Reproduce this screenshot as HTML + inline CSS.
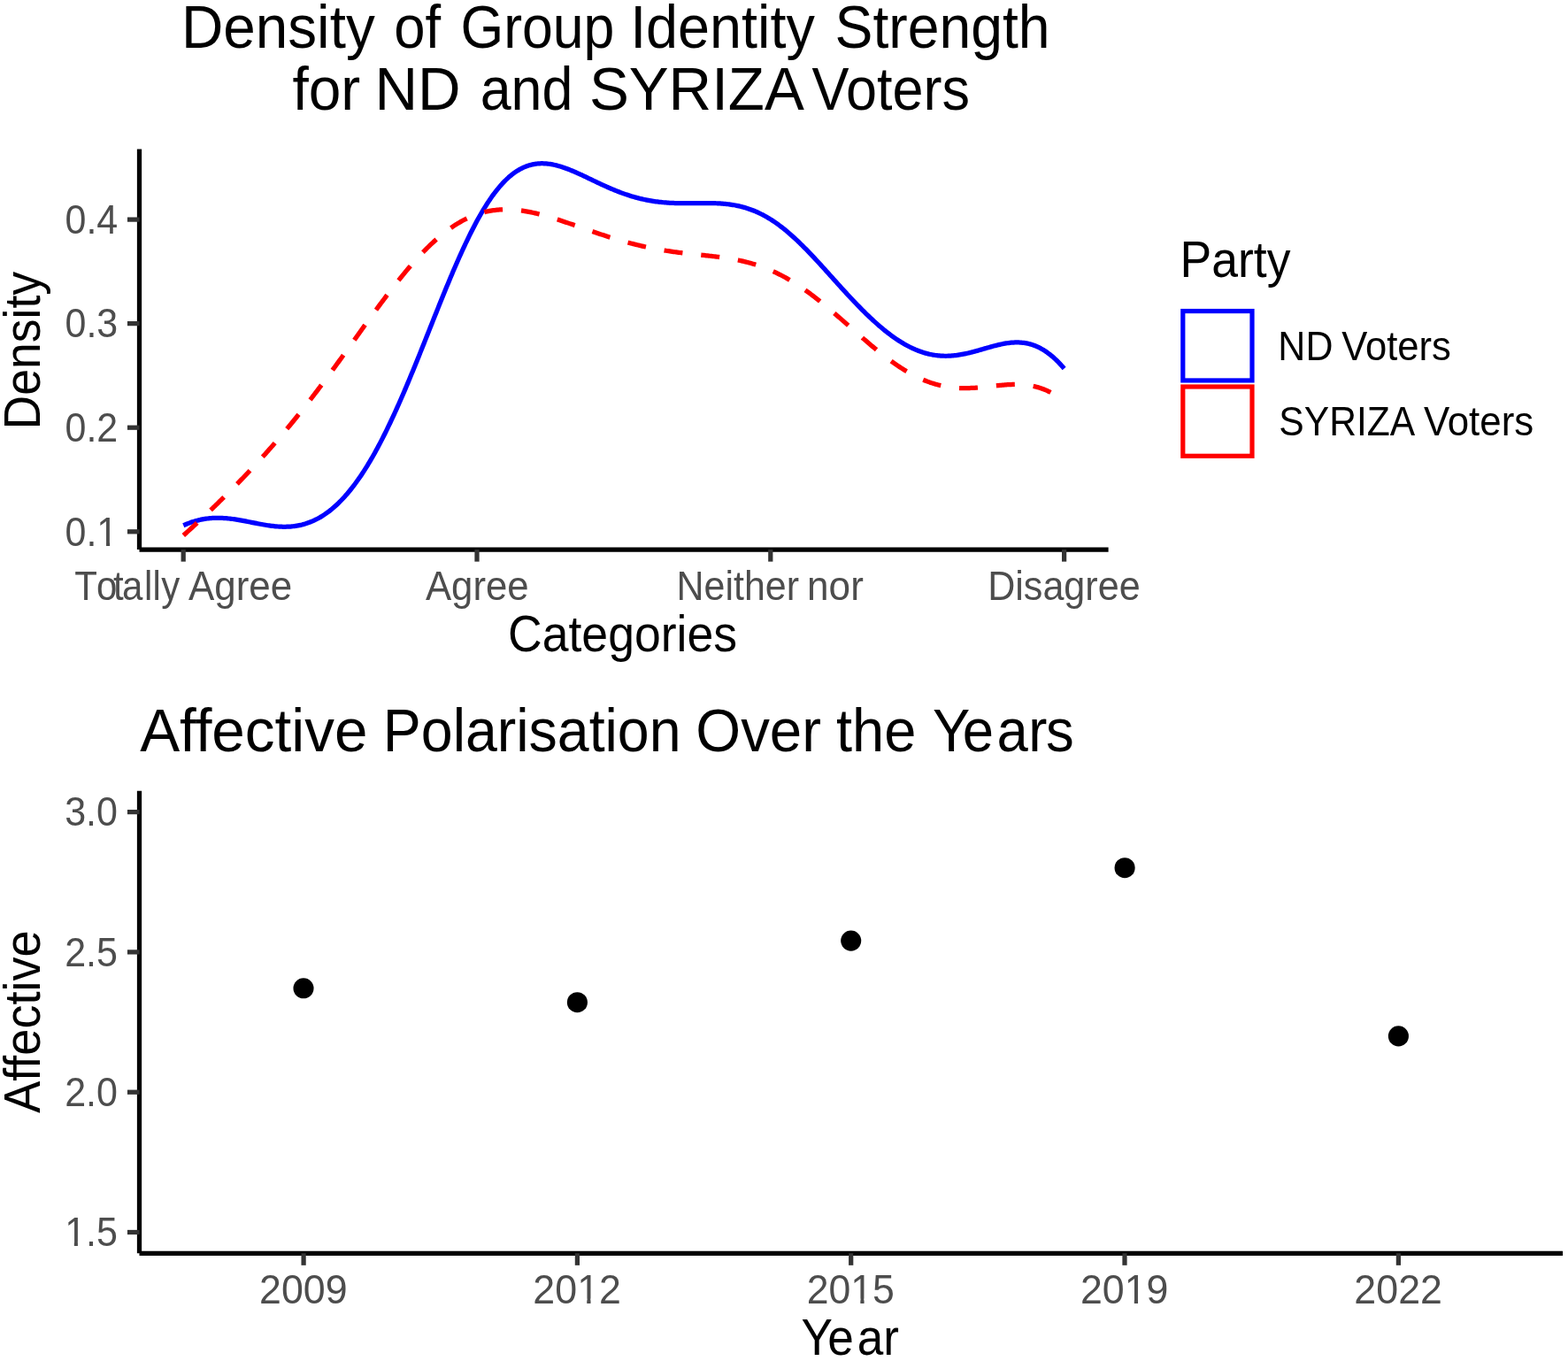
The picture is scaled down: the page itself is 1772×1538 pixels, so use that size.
<!DOCTYPE html>
<html lang="en">
<head>
<meta charset="utf-8">
<title>Density of Group Identity Strength for ND and SYRIZA Voters / Affective Polarisation Over the Years</title>
<style>
html,body{margin:0;padding:0;background:#fff;}
body{width:1772px;height:1538px;overflow:hidden;}
svg{display:block;}
svg text{font-family:"Liberation Sans", sans-serif;white-space:pre;}
</style>
</head>
<body>
<svg width="1772" height="1538" viewBox="0 0 1772 1538" font-family='"Liberation Sans", sans-serif'>
<rect width="1772" height="1538" fill="#fff"/>
<g id="top-plot">
<path d="M157.5,168.6 V621.1" stroke="#000" stroke-width="5.25" fill="none"/><path d="M157.5,621.1 H1252.6" stroke="#000" stroke-width="5.25" fill="none"/>
<path d="M207.2,621.1 v13.55" stroke="#333333" stroke-width="5.25" fill="none"/><path d="M539.0,621.1 v13.55" stroke="#333333" stroke-width="5.25" fill="none"/><path d="M870.8,621.1 v13.55" stroke="#333333" stroke-width="5.25" fill="none"/><path d="M1202.6,621.1 v13.55" stroke="#333333" stroke-width="5.25" fill="none"/>
<path d="M157.5,600.8 h-13.55" stroke="#333333" stroke-width="5.25" fill="none"/><path d="M157.5,483.2 h-13.55" stroke="#333333" stroke-width="5.25" fill="none"/><path d="M157.5,365.6 h-13.55" stroke="#333333" stroke-width="5.25" fill="none"/><path d="M157.5,248.1 h-13.55" stroke="#333333" stroke-width="5.25" fill="none"/>
<path d="M207.30,593.75 L208.72,593.12 L210.15,592.51 L211.57,591.93 L213.00,591.37 L214.42,590.84 L215.84,590.34 L217.27,589.86 L218.69,589.40 L220.12,588.97 L221.54,588.56 L222.96,588.18 L224.39,587.83 L225.81,587.49 L227.23,587.19 L228.66,586.90 L230.08,586.64 L231.51,586.41 L232.93,586.20 L234.35,586.01 L235.78,585.85 L237.20,585.70 L238.63,585.58 L240.05,585.49 L241.47,585.41 L242.90,585.36 L244.32,585.32 L245.75,585.31 L247.17,585.32 L248.59,585.34 L250.02,585.38 L251.44,585.45 L252.86,585.53 L254.29,585.62 L255.71,585.74 L257.14,585.87 L258.56,586.01 L259.98,586.17 L261.41,586.34 L262.83,586.52 L264.26,586.72 L265.68,586.93 L267.10,587.15 L268.53,587.38 L269.95,587.61 L271.38,587.86 L272.80,588.12 L274.22,588.38 L275.65,588.64 L277.07,588.91 L278.49,589.19 L279.92,589.47 L281.34,589.75 L282.77,590.04 L284.19,590.32 L285.61,590.61 L287.04,590.89 L288.46,591.17 L289.89,591.45 L291.31,591.73 L292.73,592.00 L294.16,592.27 L295.58,592.53 L297.01,592.78 L298.43,593.03 L299.85,593.27 L301.28,593.50 L302.70,593.72 L304.12,593.92 L305.55,594.12 L306.97,594.30 L308.40,594.47 L309.82,594.63 L311.24,594.77 L312.67,594.89 L314.09,595.00 L315.52,595.09 L316.94,595.17 L318.36,595.22 L319.79,595.26 L321.21,595.27 L322.64,595.27 L324.06,595.24 L325.48,595.19 L326.91,595.12 L328.33,595.02 L329.75,594.90 L331.18,594.75 L332.60,594.58 L334.03,594.38 L335.45,594.16 L336.87,593.91 L338.30,593.63 L339.72,593.32 L341.15,592.99 L342.57,592.62 L343.99,592.22 L345.42,591.80 L346.84,591.34 L348.27,590.85 L349.69,590.33 L351.11,589.78 L352.54,589.19 L353.96,588.57 L355.38,587.92 L356.81,587.23 L358.23,586.51 L359.66,585.75 L361.08,584.96 L362.50,584.13 L363.93,583.27 L365.35,582.37 L366.78,581.43 L368.20,580.45 L369.62,579.44 L371.05,578.39 L372.47,577.30 L373.90,576.18 L375.32,575.01 L376.74,573.81 L378.17,572.57 L379.59,571.29 L381.01,569.97 L382.44,568.60 L383.86,567.20 L385.29,565.76 L386.71,564.28 L388.13,562.76 L389.56,561.20 L390.98,559.59 L392.41,557.95 L393.83,556.27 L395.25,554.54 L396.68,552.77 L398.10,550.97 L399.53,549.12 L400.95,547.23 L402.37,545.29 L403.80,543.32 L405.22,541.31 L406.64,539.25 L408.07,537.15 L409.49,535.02 L410.92,532.84 L412.34,530.62 L413.76,528.36 L415.19,526.06 L416.61,523.71 L418.04,521.33 L419.46,518.91 L420.88,516.45 L422.31,513.95 L423.73,511.41 L425.16,508.83 L426.58,506.21 L428.00,503.55 L429.43,500.86 L430.85,498.13 L432.27,495.36 L433.70,492.55 L435.12,489.71 L436.55,486.84 L437.97,483.92 L439.39,480.98 L440.82,478.00 L442.24,474.98 L443.67,471.94 L445.09,468.86 L446.51,465.75 L447.94,462.61 L449.36,459.44 L450.79,456.25 L452.21,453.02 L453.63,449.77 L455.06,446.49 L456.48,443.18 L457.90,439.85 L459.33,436.50 L460.75,433.12 L462.18,429.73 L463.60,426.31 L465.02,422.87 L466.45,419.42 L467.87,415.95 L469.30,412.46 L470.72,408.96 L472.14,405.44 L473.57,401.91 L474.99,398.37 L476.42,394.82 L477.84,391.26 L479.26,387.70 L480.69,384.13 L482.11,380.55 L483.53,376.97 L484.96,373.39 L486.38,369.81 L487.81,366.23 L489.23,362.65 L490.65,359.07 L492.08,355.50 L493.50,351.94 L494.93,348.38 L496.35,344.84 L497.77,341.30 L499.20,337.78 L500.62,334.27 L502.05,330.77 L503.47,327.29 L504.89,323.83 L506.32,320.39 L507.74,316.97 L509.16,313.57 L510.59,310.20 L512.01,306.85 L513.44,303.52 L514.86,300.23 L516.28,296.96 L517.71,293.72 L519.13,290.52 L520.56,287.34 L521.98,284.21 L523.40,281.10 L524.83,278.04 L526.25,275.01 L527.68,272.02 L529.10,269.07 L530.52,266.16 L531.95,263.29 L533.37,260.47 L534.79,257.69 L536.22,254.95 L537.64,252.27 L539.07,249.62 L540.49,247.03 L541.91,244.48 L543.34,241.99 L544.76,239.54 L546.19,237.15 L547.61,234.80 L549.03,232.51 L550.46,230.27 L551.88,228.09 L553.31,225.96 L554.73,223.88 L556.15,221.85 L557.58,219.88 L559.00,217.97 L560.43,216.11 L561.85,214.31 L563.27,212.56 L564.70,210.87 L566.12,209.23 L567.54,207.65 L568.97,206.13 L570.39,204.66 L571.82,203.25 L573.24,201.89 L574.66,200.59 L576.09,199.34 L577.51,198.15 L578.94,197.02 L580.36,195.93 L581.78,194.90 L583.21,193.93 L584.63,193.01 L586.06,192.14 L587.48,191.32 L588.90,190.56 L590.33,189.84 L591.75,189.18 L593.17,188.57 L594.60,188.00 L596.02,187.48 L597.45,187.01 L598.87,186.59 L600.29,186.21 L601.72,185.88 L603.14,185.59 L604.57,185.35 L605.99,185.15 L607.41,184.99 L608.84,184.87 L610.26,184.79 L611.69,184.74 L613.11,184.74 L614.53,184.77 L615.96,184.84 L617.38,184.95 L618.80,185.08 L620.23,185.25 L621.65,185.45 L623.08,185.69 L624.50,185.95 L625.92,186.24 L627.35,186.55 L628.77,186.90 L630.20,187.27 L631.62,187.66 L633.04,188.08 L634.47,188.52 L635.89,188.98 L637.32,189.46 L638.74,189.96 L640.16,190.47 L641.59,191.01 L643.01,191.56 L644.43,192.12 L645.86,192.70 L647.28,193.29 L648.71,193.90 L650.13,194.52 L651.55,195.14 L652.98,195.78 L654.40,196.42 L655.83,197.07 L657.25,197.73 L658.67,198.39 L660.10,199.06 L661.52,199.74 L662.95,200.41 L664.37,201.09 L665.79,201.77 L667.22,202.45 L668.64,203.14 L670.06,203.82 L671.49,204.50 L672.91,205.18 L674.34,205.85 L675.76,206.53 L677.18,207.20 L678.61,207.87 L680.03,208.53 L681.46,209.18 L682.88,209.84 L684.30,210.48 L685.73,211.12 L687.15,211.75 L688.58,212.37 L690.00,212.99 L691.42,213.59 L692.85,214.19 L694.27,214.78 L695.69,215.36 L697.12,215.93 L698.54,216.49 L699.97,217.04 L701.39,217.58 L702.81,218.11 L704.24,218.62 L705.66,219.13 L707.09,219.62 L708.51,220.10 L709.93,220.57 L711.36,221.03 L712.78,221.48 L714.21,221.91 L715.63,222.33 L717.05,222.74 L718.48,223.14 L719.90,223.52 L721.32,223.89 L722.75,224.25 L724.17,224.60 L725.60,224.93 L727.02,225.25 L728.44,225.56 L729.87,225.86 L731.29,226.14 L732.72,226.41 L734.14,226.67 L735.56,226.92 L736.99,227.15 L738.41,227.38 L739.84,227.59 L741.26,227.79 L742.68,227.97 L744.11,228.15 L745.53,228.32 L746.95,228.47 L748.38,228.62 L749.80,228.75 L751.23,228.87 L752.65,228.99 L754.07,229.09 L755.50,229.19 L756.92,229.27 L758.35,229.35 L759.77,229.42 L761.19,229.48 L762.62,229.53 L764.04,229.57 L765.47,229.61 L766.89,229.64 L768.31,229.67 L769.74,229.69 L771.16,229.70 L772.58,229.71 L774.01,229.71 L775.43,229.71 L776.86,229.71 L778.28,229.70 L779.70,229.69 L781.13,229.68 L782.55,229.66 L783.98,229.65 L785.40,229.63 L786.82,229.61 L788.25,229.60 L789.67,229.58 L791.10,229.56 L792.52,229.55 L793.94,229.54 L795.37,229.53 L796.79,229.53 L798.21,229.53 L799.64,229.53 L801.06,229.54 L802.49,229.56 L803.91,229.58 L805.33,229.61 L806.76,229.65 L808.18,229.70 L809.61,229.75 L811.03,229.81 L812.45,229.89 L813.88,229.97 L815.30,230.07 L816.73,230.18 L818.15,230.30 L819.57,230.43 L821.00,230.58 L822.42,230.74 L823.84,230.91 L825.27,231.11 L826.69,231.31 L828.12,231.54 L829.54,231.78 L830.96,232.04 L832.39,232.31 L833.81,232.61 L835.24,232.92 L836.66,233.25 L838.08,233.60 L839.51,233.98 L840.93,234.37 L842.36,234.78 L843.78,235.22 L845.20,235.67 L846.63,236.15 L848.05,236.66 L849.47,237.18 L850.90,237.73 L852.32,238.30 L853.75,238.89 L855.17,239.51 L856.59,240.15 L858.02,240.81 L859.44,241.50 L860.87,242.22 L862.29,242.95 L863.71,243.72 L865.14,244.50 L866.56,245.31 L867.99,246.15 L869.41,247.01 L870.83,247.89 L872.26,248.80 L873.68,249.73 L875.11,250.68 L876.53,251.66 L877.95,252.67 L879.38,253.69 L880.80,254.74 L882.22,255.81 L883.65,256.91 L885.07,258.03 L886.50,259.16 L887.92,260.32 L889.34,261.51 L890.77,262.71 L892.19,263.93 L893.62,265.17 L895.04,266.43 L896.46,267.72 L897.89,269.02 L899.31,270.33 L900.74,271.67 L902.16,273.02 L903.58,274.39 L905.01,275.77 L906.43,277.17 L907.85,278.59 L909.28,280.02 L910.70,281.46 L912.13,282.92 L913.55,284.39 L914.97,285.87 L916.40,287.36 L917.82,288.86 L919.25,290.37 L920.67,291.89 L922.09,293.42 L923.52,294.96 L924.94,296.51 L926.37,298.06 L927.79,299.62 L929.21,301.18 L930.64,302.75 L932.06,304.32 L933.48,305.90 L934.91,307.48 L936.33,309.06 L937.76,310.64 L939.18,312.23 L940.60,313.81 L942.03,315.40 L943.45,316.98 L944.88,318.57 L946.30,320.15 L947.72,321.73 L949.15,323.30 L950.57,324.88 L952.00,326.44 L953.42,328.01 L954.84,329.56 L956.27,331.12 L957.69,332.66 L959.11,334.20 L960.54,335.73 L961.96,337.26 L963.39,338.77 L964.81,340.28 L966.23,341.78 L967.66,343.27 L969.08,344.75 L970.51,346.21 L971.93,347.67 L973.35,349.11 L974.78,350.55 L976.20,351.97 L977.63,353.37 L979.05,354.77 L980.47,356.15 L981.90,357.52 L983.32,358.87 L984.74,360.21 L986.17,361.53 L987.59,362.84 L989.02,364.13 L990.44,365.40 L991.86,366.66 L993.29,367.90 L994.71,369.12 L996.14,370.33 L997.56,371.52 L998.98,372.69 L1000.41,373.84 L1001.83,374.97 L1003.26,376.08 L1004.68,377.18 L1006.10,378.25 L1007.53,379.30 L1008.95,380.34 L1010.37,381.35 L1011.80,382.34 L1013.22,383.31 L1014.65,384.25 L1016.07,385.18 L1017.49,386.08 L1018.92,386.96 L1020.34,387.82 L1021.77,388.65 L1023.19,389.46 L1024.61,390.25 L1026.04,391.01 L1027.46,391.75 L1028.89,392.47 L1030.31,393.16 L1031.73,393.83 L1033.16,394.47 L1034.58,395.09 L1036.00,395.68 L1037.43,396.24 L1038.85,396.79 L1040.28,397.30 L1041.70,397.79 L1043.12,398.26 L1044.55,398.70 L1045.97,399.11 L1047.40,399.50 L1048.82,399.86 L1050.24,400.19 L1051.67,400.50 L1053.09,400.79 L1054.52,401.05 L1055.94,401.28 L1057.36,401.49 L1058.79,401.67 L1060.21,401.83 L1061.63,401.96 L1063.06,402.07 L1064.48,402.15 L1065.91,402.21 L1067.33,402.25 L1068.75,402.26 L1070.18,402.25 L1071.60,402.21 L1073.03,402.16 L1074.45,402.08 L1075.87,401.98 L1077.30,401.85 L1078.72,401.71 L1080.15,401.55 L1081.57,401.37 L1082.99,401.16 L1084.42,400.94 L1085.84,400.71 L1087.26,400.45 L1088.69,400.18 L1090.11,399.89 L1091.54,399.59 L1092.96,399.28 L1094.38,398.95 L1095.81,398.61 L1097.23,398.25 L1098.66,397.89 L1100.08,397.52 L1101.50,397.14 L1102.93,396.75 L1104.35,396.35 L1105.78,395.95 L1107.20,395.54 L1108.62,395.13 L1110.05,394.72 L1111.47,394.31 L1112.89,393.89 L1114.32,393.48 L1115.74,393.07 L1117.17,392.66 L1118.59,392.25 L1120.01,391.85 L1121.44,391.46 L1122.86,391.08 L1124.29,390.70 L1125.71,390.34 L1127.13,389.98 L1128.56,389.64 L1129.98,389.32 L1131.41,389.01 L1132.83,388.71 L1134.25,388.44 L1135.68,388.18 L1137.10,387.94 L1138.52,387.73 L1139.95,387.54 L1141.37,387.37 L1142.80,387.23 L1144.22,387.11 L1145.64,387.02 L1147.07,386.96 L1148.49,386.93 L1149.92,386.93 L1151.34,386.97 L1152.76,387.03 L1154.19,387.13 L1155.61,387.27 L1157.04,387.44 L1158.46,387.65 L1159.88,387.90 L1161.31,388.19 L1162.73,388.51 L1164.15,388.88 L1165.58,389.29 L1167.00,389.75 L1168.43,390.24 L1169.85,390.78 L1171.27,391.37 L1172.70,392.00 L1174.12,392.68 L1175.55,393.40 L1176.97,394.18 L1178.39,394.99 L1179.82,395.86 L1181.24,396.78 L1182.67,397.74 L1184.09,398.76 L1185.51,399.82 L1186.94,400.93 L1188.36,402.10 L1189.78,403.31 L1191.21,404.57 L1192.63,405.89 L1194.06,407.25 L1195.48,408.66 L1196.90,410.12 L1198.33,411.64 L1199.75,413.20 L1201.18,414.81 L1202.60,416.47" stroke="#0000FF" stroke-width="5.25" fill="none" stroke-linejoin="round"/>
<path d="M207.30,605.03 L208.72,603.75 L210.15,602.46 L211.57,601.16 L213.00,599.87 L214.42,598.56 L215.84,597.26 L217.27,595.95 L218.69,594.64 L220.12,593.32 L221.54,592.00 L222.96,590.68 L224.39,589.35 L225.81,588.02 L227.23,586.69 L228.66,585.35 L230.08,584.01 L231.51,582.67 L232.93,581.32 L234.35,579.97 L235.78,578.61 L237.20,577.25 L238.63,575.89 L240.05,574.52 L241.47,573.15 L242.90,571.78 L244.32,570.40 L245.75,569.02 L247.17,567.63 L248.59,566.24 L250.02,564.85 L251.44,563.45 L252.86,562.05 L254.29,560.64 L255.71,559.23 L257.14,557.81 L258.56,556.39 L259.98,554.97 L261.41,553.54 L262.83,552.10 L264.26,550.66 L265.68,549.22 L267.10,547.77 L268.53,546.32 L269.95,544.86 L271.38,543.39 L272.80,541.92 L274.22,540.45 L275.65,538.97 L277.07,537.48 L278.49,535.99 L279.92,534.49 L281.34,532.99 L282.77,531.48 L284.19,529.97 L285.61,528.45 L287.04,526.92 L288.46,525.39 L289.89,523.85 L291.31,522.31 L292.73,520.75 L294.16,519.20 L295.58,517.63 L297.01,516.06 L298.43,514.48 L299.85,512.90 L301.28,511.31 L302.70,509.71 L304.12,508.11 L305.55,506.49 L306.97,504.88 L308.40,503.25 L309.82,501.62 L311.24,499.98 L312.67,498.33 L314.09,496.68 L315.52,495.01 L316.94,493.34 L318.36,491.67 L319.79,489.98 L321.21,488.29 L322.64,486.60 L324.06,484.89 L325.48,483.18 L326.91,481.46 L328.33,479.73 L329.75,477.99 L331.18,476.25 L332.60,474.50 L334.03,472.74 L335.45,470.98 L336.87,469.21 L338.30,467.43 L339.72,465.64 L341.15,463.85 L342.57,462.05 L343.99,460.24 L345.42,458.43 L346.84,456.60 L348.27,454.78 L349.69,452.94 L351.11,451.10 L352.54,449.25 L353.96,447.39 L355.38,445.53 L356.81,443.66 L358.23,441.79 L359.66,439.91 L361.08,438.02 L362.50,436.13 L363.93,434.23 L365.35,432.33 L366.78,430.42 L368.20,428.50 L369.62,426.58 L371.05,424.66 L372.47,422.73 L373.90,420.80 L375.32,418.86 L376.74,416.91 L378.17,414.97 L379.59,413.02 L381.01,411.06 L382.44,409.10 L383.86,407.14 L385.29,405.18 L386.71,403.21 L388.13,401.24 L389.56,399.26 L390.98,397.29 L392.41,395.31 L393.83,393.33 L395.25,391.35 L396.68,389.37 L398.10,387.39 L399.53,385.41 L400.95,383.43 L402.37,381.44 L403.80,379.46 L405.22,377.48 L406.64,375.50 L408.07,373.52 L409.49,371.54 L410.92,369.56 L412.34,367.59 L413.76,365.62 L415.19,363.65 L416.61,361.68 L418.04,359.72 L419.46,357.76 L420.88,355.81 L422.31,353.86 L423.73,351.91 L425.16,349.97 L426.58,348.04 L428.00,346.11 L429.43,344.18 L430.85,342.27 L432.27,340.36 L433.70,338.46 L435.12,336.56 L436.55,334.68 L437.97,332.80 L439.39,330.93 L440.82,329.08 L442.24,327.23 L443.67,325.39 L445.09,323.56 L446.51,321.74 L447.94,319.93 L449.36,318.14 L450.79,316.36 L452.21,314.59 L453.63,312.83 L455.06,311.08 L456.48,309.35 L457.90,307.63 L459.33,305.93 L460.75,304.24 L462.18,302.57 L463.60,300.91 L465.02,299.26 L466.45,297.64 L467.87,296.03 L469.30,294.43 L470.72,292.86 L472.14,291.30 L473.57,289.76 L474.99,288.23 L476.42,286.73 L477.84,285.24 L479.26,283.77 L480.69,282.32 L482.11,280.90 L483.53,279.49 L484.96,278.10 L486.38,276.73 L487.81,275.38 L489.23,274.06 L490.65,272.75 L492.08,271.47 L493.50,270.21 L494.93,268.97 L496.35,267.75 L497.77,266.55 L499.20,265.38 L500.62,264.23 L502.05,263.10 L503.47,262.00 L504.89,260.92 L506.32,259.86 L507.74,258.83 L509.16,257.82 L510.59,256.83 L512.01,255.87 L513.44,254.93 L514.86,254.01 L516.28,253.12 L517.71,252.26 L519.13,251.42 L520.56,250.60 L521.98,249.81 L523.40,249.04 L524.83,248.29 L526.25,247.57 L527.68,246.88 L529.10,246.20 L530.52,245.56 L531.95,244.93 L533.37,244.33 L534.79,243.76 L536.22,243.21 L537.64,242.68 L539.07,242.18 L540.49,241.70 L541.91,241.24 L543.34,240.81 L544.76,240.40 L546.19,240.01 L547.61,239.64 L549.03,239.30 L550.46,238.98 L551.88,238.69 L553.31,238.41 L554.73,238.16 L556.15,237.93 L557.58,237.72 L559.00,237.53 L560.43,237.36 L561.85,237.21 L563.27,237.09 L564.70,236.98 L566.12,236.89 L567.54,236.82 L568.97,236.77 L570.39,236.74 L571.82,236.73 L573.24,236.74 L574.66,236.77 L576.09,236.81 L577.51,236.87 L578.94,236.95 L580.36,237.04 L581.78,237.15 L583.21,237.27 L584.63,237.42 L586.06,237.57 L587.48,237.74 L588.90,237.93 L590.33,238.13 L591.75,238.35 L593.17,238.57 L594.60,238.81 L596.02,239.07 L597.45,239.33 L598.87,239.61 L600.29,239.90 L601.72,240.20 L603.14,240.52 L604.57,240.84 L605.99,241.17 L607.41,241.52 L608.84,241.87 L610.26,242.23 L611.69,242.60 L613.11,242.98 L614.53,243.37 L615.96,243.77 L617.38,244.17 L618.80,244.58 L620.23,245.00 L621.65,245.42 L623.08,245.85 L624.50,246.29 L625.92,246.73 L627.35,247.18 L628.77,247.63 L630.20,248.09 L631.62,248.55 L633.04,249.02 L634.47,249.49 L635.89,249.96 L637.32,250.44 L638.74,250.92 L640.16,251.40 L641.59,251.89 L643.01,252.37 L644.43,252.86 L645.86,253.35 L647.28,253.85 L648.71,254.34 L650.13,254.84 L651.55,255.33 L652.98,255.83 L654.40,256.33 L655.83,256.82 L657.25,257.32 L658.67,257.82 L660.10,258.31 L661.52,258.81 L662.95,259.30 L664.37,259.80 L665.79,260.29 L667.22,260.78 L668.64,261.27 L670.06,261.76 L671.49,262.25 L672.91,262.73 L674.34,263.21 L675.76,263.69 L677.18,264.17 L678.61,264.64 L680.03,265.12 L681.46,265.59 L682.88,266.05 L684.30,266.51 L685.73,266.97 L687.15,267.43 L688.58,267.88 L690.00,268.33 L691.42,268.78 L692.85,269.22 L694.27,269.65 L695.69,270.09 L697.12,270.51 L698.54,270.94 L699.97,271.36 L701.39,271.77 L702.81,272.18 L704.24,272.59 L705.66,272.99 L707.09,273.39 L708.51,273.78 L709.93,274.17 L711.36,274.55 L712.78,274.93 L714.21,275.30 L715.63,275.66 L717.05,276.02 L718.48,276.38 L719.90,276.73 L721.32,277.07 L722.75,277.41 L724.17,277.75 L725.60,278.08 L727.02,278.40 L728.44,278.72 L729.87,279.03 L731.29,279.34 L732.72,279.64 L734.14,279.93 L735.56,280.22 L736.99,280.51 L738.41,280.79 L739.84,281.06 L741.26,281.33 L742.68,281.59 L744.11,281.85 L745.53,282.10 L746.95,282.35 L748.38,282.59 L749.80,282.83 L751.23,283.06 L752.65,283.28 L754.07,283.51 L755.50,283.72 L756.92,283.94 L758.35,284.14 L759.77,284.35 L761.19,284.55 L762.62,284.74 L764.04,284.93 L765.47,285.12 L766.89,285.30 L768.31,285.48 L769.74,285.66 L771.16,285.83 L772.58,286.00 L774.01,286.17 L775.43,286.34 L776.86,286.50 L778.28,286.66 L779.70,286.82 L781.13,286.97 L782.55,287.13 L783.98,287.28 L785.40,287.43 L786.82,287.58 L788.25,287.73 L789.67,287.88 L791.10,288.03 L792.52,288.18 L793.94,288.33 L795.37,288.48 L796.79,288.64 L798.21,288.79 L799.64,288.94 L801.06,289.10 L802.49,289.26 L803.91,289.42 L805.33,289.58 L806.76,289.75 L808.18,289.92 L809.61,290.09 L811.03,290.27 L812.45,290.45 L813.88,290.64 L815.30,290.83 L816.73,291.03 L818.15,291.23 L819.57,291.44 L821.00,291.66 L822.42,291.88 L823.84,292.11 L825.27,292.34 L826.69,292.58 L828.12,292.83 L829.54,293.09 L830.96,293.36 L832.39,293.64 L833.81,293.92 L835.24,294.22 L836.66,294.52 L838.08,294.83 L839.51,295.16 L840.93,295.49 L842.36,295.84 L843.78,296.20 L845.20,296.56 L846.63,296.94 L848.05,297.34 L849.47,297.74 L850.90,298.15 L852.32,298.58 L853.75,299.02 L855.17,299.48 L856.59,299.94 L858.02,300.42 L859.44,300.92 L860.87,301.43 L862.29,301.95 L863.71,302.48 L865.14,303.03 L866.56,303.60 L867.99,304.17 L869.41,304.77 L870.83,305.37 L872.26,306.00 L873.68,306.63 L875.11,307.29 L876.53,307.95 L877.95,308.63 L879.38,309.33 L880.80,310.04 L882.22,310.77 L883.65,311.51 L885.07,312.27 L886.50,313.04 L887.92,313.82 L889.34,314.62 L890.77,315.44 L892.19,316.27 L893.62,317.11 L895.04,317.97 L896.46,318.85 L897.89,319.74 L899.31,320.64 L900.74,321.56 L902.16,322.49 L903.58,323.43 L905.01,324.39 L906.43,325.36 L907.85,326.34 L909.28,327.34 L910.70,328.35 L912.13,329.37 L913.55,330.41 L914.97,331.45 L916.40,332.51 L917.82,333.58 L919.25,334.66 L920.67,335.76 L922.09,336.86 L923.52,337.97 L924.94,339.09 L926.37,340.23 L927.79,341.37 L929.21,342.52 L930.64,343.68 L932.06,344.85 L933.48,346.03 L934.91,347.21 L936.33,348.40 L937.76,349.60 L939.18,350.81 L940.60,352.02 L942.03,353.23 L943.45,354.46 L944.88,355.68 L946.30,356.92 L947.72,358.15 L949.15,359.39 L950.57,360.64 L952.00,361.88 L953.42,363.13 L954.84,364.38 L956.27,365.64 L957.69,366.89 L959.11,368.15 L960.54,369.40 L961.96,370.66 L963.39,371.92 L964.81,373.17 L966.23,374.43 L967.66,375.68 L969.08,376.93 L970.51,378.18 L971.93,379.42 L973.35,380.66 L974.78,381.90 L976.20,383.13 L977.63,384.36 L979.05,385.59 L980.47,386.80 L981.90,388.02 L983.32,389.22 L984.74,390.42 L986.17,391.61 L987.59,392.80 L989.02,393.97 L990.44,395.14 L991.86,396.30 L993.29,397.45 L994.71,398.59 L996.14,399.72 L997.56,400.84 L998.98,401.95 L1000.41,403.05 L1001.83,404.13 L1003.26,405.21 L1004.68,406.27 L1006.10,407.32 L1007.53,408.36 L1008.95,409.38 L1010.37,410.39 L1011.80,411.38 L1013.22,412.36 L1014.65,413.33 L1016.07,414.28 L1017.49,415.21 L1018.92,416.13 L1020.34,417.04 L1021.77,417.92 L1023.19,418.80 L1024.61,419.65 L1026.04,420.49 L1027.46,421.31 L1028.89,422.11 L1030.31,422.89 L1031.73,423.66 L1033.16,424.41 L1034.58,425.14 L1036.00,425.85 L1037.43,426.54 L1038.85,427.21 L1040.28,427.87 L1041.70,428.50 L1043.12,429.12 L1044.55,429.71 L1045.97,430.29 L1047.40,430.84 L1048.82,431.38 L1050.24,431.90 L1051.67,432.40 L1053.09,432.87 L1054.52,433.33 L1055.94,433.77 L1057.36,434.19 L1058.79,434.59 L1060.21,434.96 L1061.63,435.32 L1063.06,435.66 L1064.48,435.98 L1065.91,436.28 L1067.33,436.56 L1068.75,436.83 L1070.18,437.07 L1071.60,437.29 L1073.03,437.50 L1074.45,437.69 L1075.87,437.86 L1077.30,438.01 L1078.72,438.15 L1080.15,438.26 L1081.57,438.37 L1082.99,438.45 L1084.42,438.52 L1085.84,438.57 L1087.26,438.61 L1088.69,438.63 L1090.11,438.64 L1091.54,438.64 L1092.96,438.62 L1094.38,438.59 L1095.81,438.55 L1097.23,438.49 L1098.66,438.42 L1100.08,438.35 L1101.50,438.26 L1102.93,438.16 L1104.35,438.06 L1105.78,437.94 L1107.20,437.82 L1108.62,437.69 L1110.05,437.56 L1111.47,437.42 L1112.89,437.27 L1114.32,437.12 L1115.74,436.97 L1117.17,436.82 L1118.59,436.66 L1120.01,436.50 L1121.44,436.35 L1122.86,436.19 L1124.29,436.03 L1125.71,435.88 L1127.13,435.73 L1128.56,435.58 L1129.98,435.44 L1131.41,435.31 L1132.83,435.18 L1134.25,435.06 L1135.68,434.94 L1137.10,434.84 L1138.52,434.74 L1139.95,434.66 L1141.37,434.59 L1142.80,434.53 L1144.22,434.48 L1145.64,434.45 L1147.07,434.43 L1148.49,434.43 L1149.92,434.45 L1151.34,434.48 L1152.76,434.53 L1154.19,434.60 L1155.61,434.69 L1157.04,434.81 L1158.46,434.94 L1159.88,435.09 L1161.31,435.27 L1162.73,435.48 L1164.15,435.70 L1165.58,435.96 L1167.00,436.24 L1168.43,436.54 L1169.85,436.88 L1171.27,437.24 L1172.70,437.63 L1174.12,438.05 L1175.55,438.50 L1176.97,438.97 L1178.39,439.48 L1179.82,440.03 L1181.24,440.60 L1182.67,441.21 L1184.09,441.84 L1185.51,442.52 L1186.94,443.22 L1188.36,443.96 L1189.78,444.73 L1191.21,445.54 L1192.63,446.38 L1194.06,447.26 L1195.48,448.17 L1196.90,449.12 L1198.33,450.10 L1199.75,451.12 L1201.18,452.18 L1202.60,453.27" stroke="#FF0000" stroke-width="5.25" fill="none" stroke-dasharray="21.0 21.0" stroke-linejoin="round"/>
<text y="53.80" font-size="68" fill="#000"><tspan x="204.92" textLength="218.81" lengthAdjust="spacingAndGlyphs">Density</tspan> <tspan x="445.24" textLength="52.87" lengthAdjust="spacingAndGlyphs">of</tspan> <tspan x="520.45" textLength="173.98" lengthAdjust="spacingAndGlyphs">Group</tspan> <tspan x="712.13" textLength="208.70" lengthAdjust="spacingAndGlyphs">Identity</tspan> <tspan x="943.58" textLength="242.99" lengthAdjust="spacingAndGlyphs">Strength</tspan></text>
<text y="123.90" font-size="68" fill="#000"><tspan x="330.47" textLength="76.83" lengthAdjust="spacingAndGlyphs">for</tspan> <tspan x="423.38" textLength="97.13" lengthAdjust="spacingAndGlyphs">ND</tspan> <tspan x="542.63" textLength="104.71" lengthAdjust="spacingAndGlyphs">and</tspan> <tspan x="665.89" textLength="239.24" lengthAdjust="spacingAndGlyphs">SYRIZA</tspan> <tspan x="917.53" textLength="178.50" lengthAdjust="spacingAndGlyphs">Voters</tspan></text>
<text y="736.20" font-size="57.7" fill="#000"><tspan x="573.98" textLength="259.16" lengthAdjust="spacingAndGlyphs">Categories</tspan></text>
<text transform="translate(45.10,481.10) rotate(-90)" font-size="57.7" fill="#000"><tspan x="-4.39" y="0" textLength="178.50" lengthAdjust="spacingAndGlyphs">Density</tspan></text>
<text y="678.20" font-size="45.3" fill="#4D4D4D"><tspan x="213.01" textLength="117.24" lengthAdjust="spacingAndGlyphs">Agree</tspan></text><text transform="translate(0,678.20) scale(0.9274,1)" font-size="45.3" fill="#4D4D4D" x="90.99 117.56 138.08 148.68 175.79 185.98 196.57" y="0">Totally</text>
<text y="678.20" font-size="45.3" fill="#4D4D4D"><tspan x="480.91" textLength="116.73" lengthAdjust="spacingAndGlyphs">Agree</tspan></text>
<text y="678.20" font-size="45.3" fill="#4D4D4D"><tspan x="764.58" textLength="138.44" lengthAdjust="spacingAndGlyphs">Neither</tspan> <tspan x="912.07" textLength="63.76" lengthAdjust="spacingAndGlyphs">nor</tspan></text>
<text y="678.20" font-size="45.3" fill="#4D4D4D"><tspan x="1116.17" textLength="172.45" lengthAdjust="spacingAndGlyphs">Disagree</tspan></text>
<text y="616.50" font-size="45.3" fill="#4D4D4D"><tspan x="73.52" textLength="59.74" lengthAdjust="spacingAndGlyphs">0.1</tspan></text>
<text y="498.90" font-size="45.3" fill="#4D4D4D"><tspan x="73.52" textLength="59.74" lengthAdjust="spacingAndGlyphs">0.2</tspan></text>
<text y="381.30" font-size="45.3" fill="#4D4D4D"><tspan x="73.52" textLength="59.74" lengthAdjust="spacingAndGlyphs">0.3</tspan></text>
<text y="263.80" font-size="45.3" fill="#4D4D4D"><tspan x="73.52" textLength="59.74" lengthAdjust="spacingAndGlyphs">0.4</tspan></text>
</g>
<g id="legend">
<text y="313.20" font-size="57.7" fill="#000"><tspan x="1333.51" textLength="124.89" lengthAdjust="spacingAndGlyphs">Party</tspan></text>
<rect x="1336.8" y="351.55" width="78.2" height="78.4" fill="none" stroke="#0000FF" stroke-width="5.2"/>
<rect x="1336.8" y="437.0" width="78.2" height="78.3" fill="none" stroke="#FF0000" stroke-width="5.2"/>
<text y="406.70" font-size="45.3" fill="#000"><tspan x="1444.37" textLength="62.08" lengthAdjust="spacingAndGlyphs">ND</tspan> <tspan x="1516.31" textLength="123.63" lengthAdjust="spacingAndGlyphs">Voters</tspan></text>
<text y="492.10" font-size="45.3" fill="#000"><tspan x="1445.29" textLength="151.59" lengthAdjust="spacingAndGlyphs">SYRIZA</tspan> <tspan x="1608.91" textLength="124.24" lengthAdjust="spacingAndGlyphs">Voters</tspan></text>
</g>
<g id="bottom-plot">
<path d="M157.5,893.8 V1416.3" stroke="#000" stroke-width="5.25" fill="none"/><path d="M157.5,1416.3 H1766.1" stroke="#000" stroke-width="5.25" fill="none"/>
<path d="M343.1,1416.3 v13.55" stroke="#333333" stroke-width="5.25" fill="none"/><path d="M652.4,1416.3 v13.55" stroke="#333333" stroke-width="5.25" fill="none"/><path d="M961.7,1416.3 v13.55" stroke="#333333" stroke-width="5.25" fill="none"/><path d="M1271.0,1416.3 v13.55" stroke="#333333" stroke-width="5.25" fill="none"/><path d="M1580.4,1416.3 v13.55" stroke="#333333" stroke-width="5.25" fill="none"/>
<path d="M157.5,1392.5 h-13.55" stroke="#333333" stroke-width="5.25" fill="none"/><path d="M157.5,1234.2 h-13.55" stroke="#333333" stroke-width="5.25" fill="none"/><path d="M157.5,1075.9 h-13.55" stroke="#333333" stroke-width="5.25" fill="none"/><path d="M157.5,917.6 h-13.55" stroke="#333333" stroke-width="5.25" fill="none"/>
<circle cx="343.0" cy="1116.8" r="11.55" fill="#000"/>
<circle cx="652.4" cy="1132.7" r="11.55" fill="#000"/>
<circle cx="961.7" cy="1063.1" r="11.55" fill="#000"/>
<circle cx="1271.1" cy="980.7" r="11.55" fill="#000"/>
<circle cx="1580.4" cy="1170.9" r="11.55" fill="#000"/>
<text y="849.10" font-size="68" fill="#000"><tspan x="158.17" textLength="257.31" lengthAdjust="spacingAndGlyphs">Affective</tspan> <tspan x="432.81" textLength="336.77" lengthAdjust="spacingAndGlyphs">Polarisation</tspan> <tspan x="786.30" textLength="141.68" lengthAdjust="spacingAndGlyphs">Over</tspan> <tspan x="945.02" textLength="90.37" lengthAdjust="spacingAndGlyphs">the</tspan></text><text transform="translate(0,849.10) scale(0.9329,1)" font-size="68" fill="#000" x="1129.95 1165.99 1207.62 1245.83 1267.05" y="0">Years</text>
<text transform="translate(0,1530.80) scale(0.9217,1)" font-size="57.7" fill="#000" x="982.42 1014.75 1051.12 1083.12" y="0">Year</text>
<text transform="translate(45.20,1257.70) rotate(-90)" font-size="57.7" fill="#000"><tspan x="-0.11" y="0" textLength="206.40" lengthAdjust="spacingAndGlyphs">Affective</tspan></text>
<text y="1472.90" font-size="45.3" fill="#4D4D4D"><tspan x="293.05" textLength="99.47" lengthAdjust="spacingAndGlyphs">2009</tspan></text>
<text y="1472.90" font-size="45.3" fill="#4D4D4D"><tspan x="602.35" textLength="99.60" lengthAdjust="spacingAndGlyphs">2012</tspan></text>
<text y="1472.90" font-size="45.3" fill="#4D4D4D"><tspan x="911.66" textLength="99.22" lengthAdjust="spacingAndGlyphs">2015</tspan></text>
<text y="1472.90" font-size="45.3" fill="#4D4D4D"><tspan x="1220.95" textLength="99.47" lengthAdjust="spacingAndGlyphs">2019</tspan></text>
<text y="1472.90" font-size="45.3" fill="#4D4D4D"><tspan x="1530.35" textLength="99.60" lengthAdjust="spacingAndGlyphs">2022</tspan></text>
<text y="1408.20" font-size="45.3" fill="#4D4D4D"><tspan x="73.13" textLength="59.87" lengthAdjust="spacingAndGlyphs">1.5</tspan></text>
<text y="1249.90" font-size="45.3" fill="#4D4D4D"><tspan x="73.13" textLength="59.87" lengthAdjust="spacingAndGlyphs">2.0</tspan></text>
<text y="1091.60" font-size="45.3" fill="#4D4D4D"><tspan x="73.13" textLength="59.87" lengthAdjust="spacingAndGlyphs">2.5</tspan></text>
<text y="933.30" font-size="45.3" fill="#4D4D4D"><tspan x="73.13" textLength="59.87" lengthAdjust="spacingAndGlyphs">3.0</tspan></text>
</g>
<g id="glyph-trim" fill="#fff"><rect x="111.71" y="611.12" width="8.31" height="6.58"/><rect x="124.12" y="611.12" width="8.12" height="6.58"/><rect x="654.63" y="1467.52" width="8.63" height="6.58"/><rect x="667.52" y="1467.52" width="8.43" height="6.58"/><rect x="963.73" y="1467.52" width="8.60" height="6.58"/><rect x="976.57" y="1467.52" width="8.40" height="6.58"/><rect x="1273.16" y="1467.52" width="8.62" height="6.58"/><rect x="1286.03" y="1467.52" width="8.42" height="6.58"/><rect x="75.49" y="1402.82" width="8.33" height="6.58"/><rect x="87.92" y="1402.82" width="8.14" height="6.58"/></g>
</svg>
</body>
</html>
